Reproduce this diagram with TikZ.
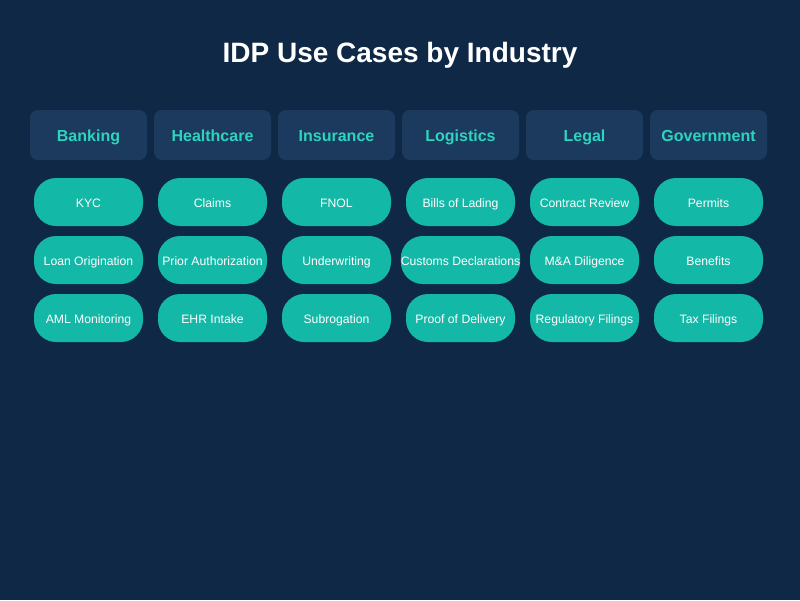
\documentclass[tikz,border=0pt]{standalone}
\usepackage{fontspec}
\setmainfont{Liberation Sans}
\definecolor{bg}{HTML}{0F2846}
\definecolor{hdr}{HTML}{1B3A5E}
\definecolor{hdrtxt}{HTML}{2DD4BF}
\definecolor{pill}{HTML}{14B8A6}
\begin{document}
\begin{tikzpicture}[x=1pt,y=-1pt,
  hdrbox/.style={fill=hdr,rounded corners=8pt,minimum width=117pt,minimum height=50pt,text=hdrtxt,font=\fontsize{16}{18}\selectfont\bfseries,inner sep=0pt,text height=13pt,text depth=1pt},
  pillbox/.style={fill=pill,rounded corners=22pt,minimum width=109pt,minimum height=48pt,text=white,font=\fontsize{12.2}{14}\selectfont,inner sep=0pt,text height=10.6pt,text depth=0.6pt}]
\fill[bg] (0,0) rectangle (800,600);
\useasboundingbox (0,0) rectangle (800,600);
\node[text=white,font=\fontsize{28}{32}\selectfont\bfseries,text height=22pt,text depth=4pt] (title) at (400,53) {IDP Use Cases by Industry};
\foreach \i/\h/\a/\b/\c in {0/Banking/KYC/Loan Origination/AML Monitoring,
  1/Healthcare/Claims/Prior Authorization/EHR Intake,
  2/Insurance/FNOL/Underwriting/Subrogation,
  3/Logistics/Bills of Lading/Customs Declarations/Proof of Delivery,
  4/Legal/Contract Review/M\&A Diligence/Regulatory Filings,
  5/Government/Permits/Benefits/Tax Filings}{
  \node[hdrbox] (h\i) at (88.5+124*\i,135) {\h};
  \node[pillbox] (p\i a) at (88.5+124*\i,202) {\a};
  \node[pillbox] (p\i b) at (88.5+124*\i,260) {\b};
  \node[pillbox] (p\i c) at (88.5+124*\i,318) {\c};
}
\end{tikzpicture}
\end{document}
